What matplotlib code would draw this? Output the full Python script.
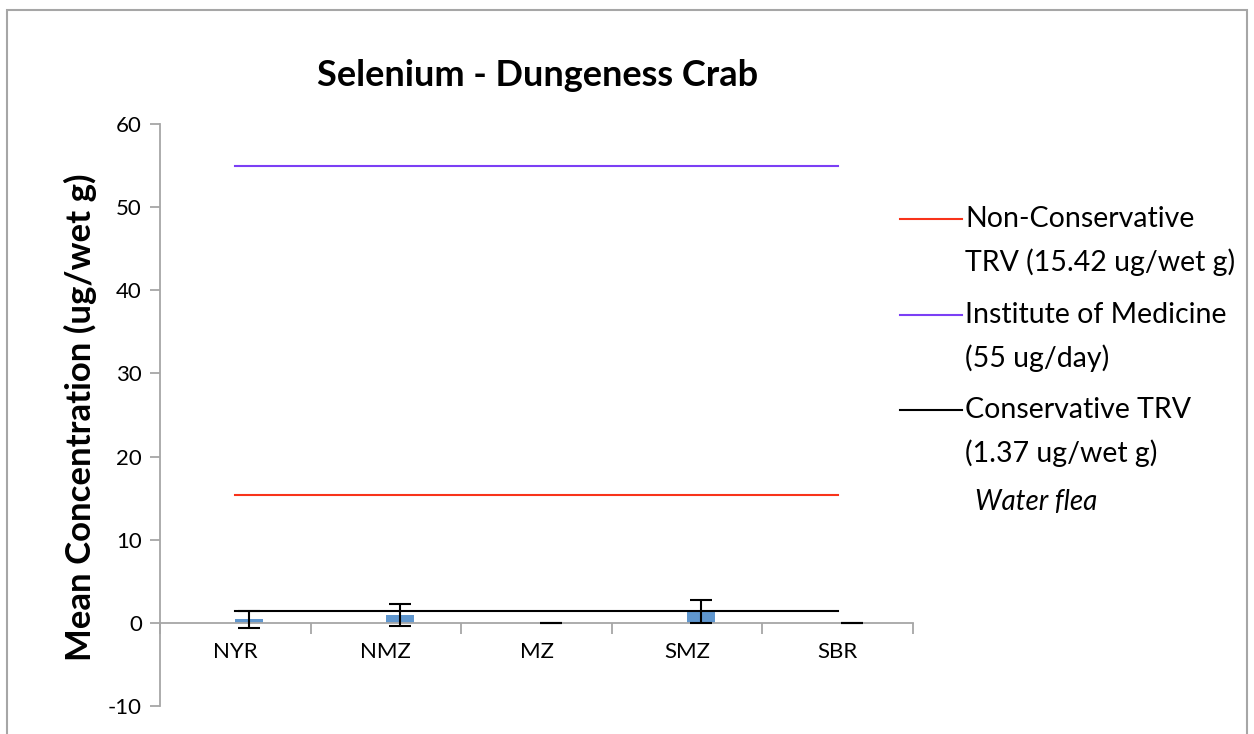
import numpy as np
import matplotlib
matplotlib.use('Agg')
import matplotlib.pyplot as plt
from matplotlib.lines import Line2D
from matplotlib.patches import Rectangle

plt.rcParams['font.family'] = ['Lato', 'DejaVu Sans']
plt.rcParams['axes.unicode_minus'] = False

# sitios y concentraciones medias de selenio
sitios = ['NYR', 'NMZ', 'MZ', 'SMZ', 'SBR']
media = [0.41, 0.92, 0.0, 1.36, 0.0]
error = [1.0, 1.35, 0.0, 1.36, 0.0]

# valores de referencia (lineas horizontales)
ref_nombres = ['Non-Conservative\nTRV (15.42 ug/wet g)',
               'Institute of Medicine\n(55 ug/day)',
               'Conservative TRV\n(1.37 ug/wet g)']
ref_valores = [15.42, 55, 1.37]
ref_colores = ['#F8331A', '#7B3FF5', '#000000']

W, H = 1254, 734
fig = plt.figure(figsize=(W/100, H/100), dpi=100)
ax = fig.add_axes([160/W, 1-706/H, (913-160)/W, (706-124)/H])

# marco gris del area del grafico
fig.patches.append(Rectangle((7/W, -0.05), (1247-7)/W, 1.05-10/H,
                             transform=fig.transFigure, fill=False,
                             edgecolor='#A6A6A6', linewidth=1.5))

x = np.arange(len(sitios))
ancho = 0.186
ax.bar(x + ancho/2, media, width=ancho, color='#5F96CE', zorder=2)

for v, c in zip(ref_valores, ref_colores):
    ax.plot([x[0], x[-1]], [v, v], color=c, lw=1.5, zorder=3)

ax.errorbar(x + ancho/2, media, yerr=error, fmt='none', ecolor='black',
            elinewidth=1.5, capsize=8, capthick=1.5, zorder=4)

ax.set_xlim(-0.5, len(sitios) - 0.5)
ax.set_ylim(-10, 60)
ax.set_yticks(np.arange(-10, 61, 10))

# ejes estilo excel
for s in ['top', 'right']:
    ax.spines[s].set_visible(False)
ax.spines['bottom'].set_position(('data', 0))
ax.spines['left'].set_color('#A6A6A6')
ax.spines['bottom'].set_color('#A6A6A6')
ax.spines['left'].set_linewidth(1.3)
ax.spines['bottom'].set_linewidth(1.3)
ax.set_xticks(np.arange(-0.5, len(sitios), 1))
ax.set_xticklabels([])
ax.set_xticks(x, minor=True)
ax.set_xticklabels(sitios, minor=True)
ax.tick_params(axis='x', which='major', length=8, width=1.3, color='#A6A6A6', direction='out')
ax.tick_params(axis='x', which='minor', length=0, pad=14, labelsize=16)
ax.tick_params(axis='y', length=7, width=1.3, color='#A6A6A6', labelsize=16, pad=6)

fig.text(80/W, 1-417/H, 'Mean Concentration (ug/wet g)', fontsize=25,
         fontweight='bold', rotation=90, ha='center', va='center')
fig.text(538/W, 1-75/H, 'Selenium - Dungeness Crab', fontsize=26,
         fontweight='bold', ha='center', va='center')

# leyenda dibujada a mano
y_leyenda = [219, 315, 410]
for nombre, c, yl in zip(ref_nombres, ref_colores, y_leyenda):
    fig.lines.append(Line2D([900/W, 962/W], [1-yl/H, 1-yl/H], color=c, lw=1.5,
                            transform=fig.transFigure))
    for k, linea in enumerate(nombre.split('\n')):
        fig.text(965/W, 1-(yl + 43*k)/H, linea, fontsize=20.5, ha='left', va='center')
fig.text(975/W, 1-502/H, 'Water flea', fontsize=20, style='italic',
         ha='left', va='center')

fig.savefig('out.png', dpi=100)
